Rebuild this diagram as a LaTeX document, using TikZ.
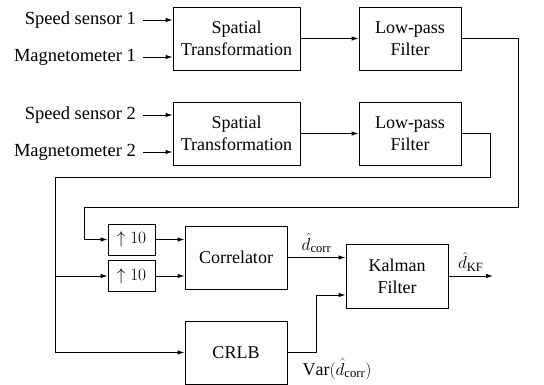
\documentclass[tikz,border=0pt]{standalone}
\usepackage{fontspec}
\setmainfont{Liberation Serif}
\usetikzlibrary{arrows.meta}
\begin{document}
\begin{tikzpicture}[x=1pt,y=-1pt,
  every node/.style={font=\fontsize{18}{22}\selectfont},
  blk/.style={draw, line width=0.9pt, align=center, inner sep=0pt},
  lbl/.style={inner sep=0pt, anchor=east, font=\fontsize{18.5}{22}\selectfont},
  arr/.style={line width=0.9pt, -{Latex[length=7pt,width=4.5pt]}},
  ln/.style={line width=0.9pt}]
\useasboundingbox (0,0) rectangle (544,385);
% blocks
\node[blk, minimum width=127pt, minimum height=63pt] (st1) at (236.5,38.5) {Spatial\\Transformation};
\node[blk, minimum width=102pt, minimum height=63pt] (lp1) at (410,38.5) {Low-pass\\Filter};
\node[blk, minimum width=127pt, minimum height=63pt] (st2) at (236.5,133.5) {Spatial\\Transformation};
\node[blk, minimum width=102pt, minimum height=63pt] (lp2) at (410,133.5) {Low-pass\\Filter};
\node[blk, minimum width=47pt, minimum height=31pt] (up1) at (131.5,239.5) {$\uparrow 10$};
\node[blk, minimum width=47pt, minimum height=31pt] (up2) at (131.5,276) {$\uparrow 10$};
\node[blk, minimum width=102pt, minimum height=63pt] (cor) at (236,257.5) {Correlator};
\node[blk, minimum width=102pt, minimum height=64pt] (kf) at (397,276) {Kalman\\Filter};
\node[blk, minimum width=102pt, minimum height=63pt] (crlb) at (236,352.5) {CRLB};
% input labels
\node[lbl] (s1) at (136,20) {Speed sensor 1};
\node[lbl] (m1) at (136,57) {Magnetometer 1};
\node[lbl] (s2) at (136,115) {Speed sensor 2};
\node[lbl] (m2) at (136,152) {Magnetometer 2};
% input arrows
\draw[arr] ([xshift=7pt]s1.east) -- (s1.east -| st1.west);
\draw[arr] ([xshift=7pt]m1.east) -- (m1.east -| st1.west);
\draw[arr] ([xshift=7pt]s2.east) -- (s2.east -| st2.west);
\draw[arr] ([xshift=7pt]m2.east) -- (m2.east -| st2.west);
\draw[arr] (st1.east) -- (lp1.west);
\draw[arr] (st2.east) -- (lp2.west);
% routing
\coordinate (a1) at (518,38.5);
\coordinate (a2) at (518,207);
\coordinate (a3) at (84,207);
\draw[arr] (lp1.east) -- (a1) -- (a2) -- (a3) -- (a3 |- up1.west) -- (up1.west);
\coordinate (b1) at (490,133.5);
\coordinate (b2) at (490,177);
\coordinate (b3) at (55,177);
\draw[ln] (lp2.east) -- (b1) -- (b2) -- (b3) -- (b3 |- crlb.west);
\draw[arr] (b3 |- crlb.west) -- (crlb.west);
\draw[arr] (b3 |- up2.west) -- (up2.west);
\draw[arr] (up1.east) -- (up1.east -| cor.west);
\draw[arr] (up2.east) -- (up2.east -| cor.west);
\draw[arr] (cor.east) -- (cor.east -| kf.west) node[midway, above=1pt] (dc) {$\hat d_{\mathrm{corr}}$};
\coordinate (kout) at (493,276);
\draw[arr] (kf.east) -- (kout) node[midway, above=1pt] (dk) {$\hat d_{\mathrm{KF}}$};
\coordinate (c1) at (316,352.5);
\coordinate (c2) at (316,295);
\draw[arr] (crlb.east) -- (c1) -- (c2) -- (c2 -| kf.west);
\node (var) at (337,369) {$\mathrm{Var}(\hat d_{\mathrm{corr}})$};
\end{tikzpicture}
\end{document}
